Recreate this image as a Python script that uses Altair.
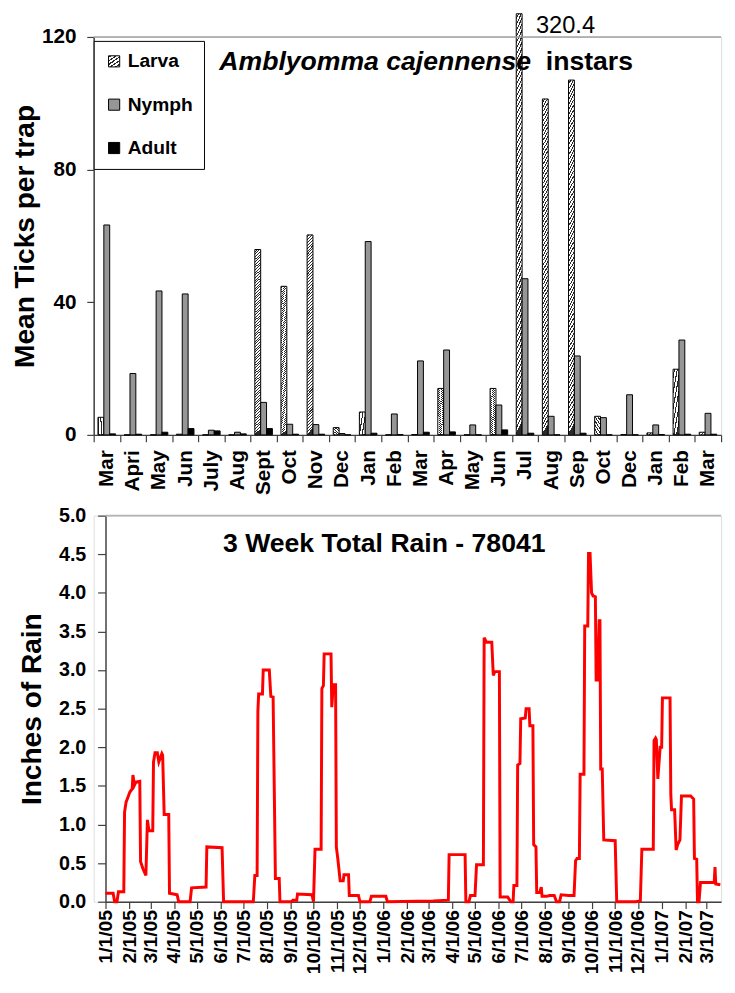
import altair as alt
import pandas as pd

FONT = "Liberation Sans"

# ---------------- top panel data ----------------
months = ["Mar", "Apri", "May", "Jun", "July", "Aug", "Sept", "Oct", "Nov", "Dec", "Jan", "Feb",
          "Mar", "Apr", "May", "Jun", "Jul", "Aug", "Sep", "Oct", "Dec", "Jan", "Feb", "Mar"]
stages = ["Larva", "Nymph", "Adult"]
larva = [5.3, 0, 0, 0.2, 0, 0, 55.9, 44.8, 60.3, 2.2, 6.9, 0, 0.1, 14.0, 0, 14.0,
         320.4, 101.3, 107.0, 5.6, 0.1, 0.6, 19.8, 0.8]
nymph = [63.3, 18.5, 43.4, 42.5, 1.4, 0.8, 9.8, 3.2, 3.1, 0.4, 58.3, 6.3, 22.3, 25.6,
         3.0, 9.0, 47.1, 5.6, 23.8, 5.2, 12.1, 3.0, 28.6, 6.5]
adult = [0.3, 0.2, 0.8, 1.9, 1.2, 0.3, 1.9, 0.2, 0.2, 0.0, 0.5, 0.1, 0.8, 0.9,
         0.0, 1.5, 0.5, 0.0, 0.5, 0.0, 0.0, 0.1, 0.2, 0.2]

# ---------------- bottom panel data ----------------
rain_dates = [
    "2005/01/01", "2005/01/11", "2005/01/13", "2005/01/16", "2005/01/18", "2005/01/25",
    "2005/01/26", "2005/01/28", "2005/02/02", "2005/02/05", "2005/02/06", "2005/02/08",
    "2005/02/10", "2005/02/15", "2005/02/16", "2005/02/19", "2005/02/23", "2005/02/25",
    "2005/02/27", "2005/03/04", "2005/03/05", "2005/03/07", "2005/03/10", "2005/03/12",
    "2005/03/16", "2005/03/17", "2005/03/19", "2005/03/25", "2005/03/26", "2005/04/05",
    "2005/04/07", "2005/04/22", "2005/04/24", "2005/05/13", "2005/05/14", "2005/06/03",
    "2005/06/05", "2005/07/14", "2005/07/16", "2005/07/19", "2005/07/20", "2005/07/21",
    "2005/07/26", "2005/07/27", "2005/08/04", "2005/08/06", "2005/08/09", "2005/08/12",
    "2005/08/17", "2005/08/18", "2005/09/02", "2005/09/04", "2005/09/09", "2005/09/10",
    "2005/09/29", "2005/10/01", "2005/10/03", "2005/10/11", "2005/10/12", "2005/10/14",
    "2005/10/15", "2005/10/24", "2005/10/25", "2005/10/27", "2005/10/30", "2005/10/31",
    "2005/11/02", "2005/11/05", "2005/11/09", "2005/11/10", "2005/11/16", "2005/11/17",
    "2005/11/29", "2005/12/01", "2005/12/14", "2005/12/16", "2006/01/04", "2006/01/06",
    "2006/03/07", "2006/03/27", "2006/03/28", "2006/04/18", "2006/04/19", "2006/04/23",
    "2006/04/25", "2006/05/01", "2006/05/03", "2006/05/12", "2006/05/13", "2006/05/16",
    "2006/05/23", "2006/05/25", "2006/05/27", "2006/06/02", "2006/06/03", "2006/06/13",
    "2006/06/17", "2006/06/20", "2006/06/21", "2006/06/25", "2006/06/26", "2006/06/29",
    "2006/06/30", "2006/07/06", "2006/07/07", "2006/07/11", "2006/07/12", "2006/07/16",
    "2006/07/17", "2006/07/20", "2006/07/21", "2006/07/25", "2006/07/27", "2006/07/28",
    "2006/08/03", "2006/08/07", "2006/08/13", "2006/08/16", "2006/08/20", "2006/08/22",
    "2006/09/01", "2006/09/08", "2006/09/10", "2006/09/12", "2006/09/15", "2006/09/16",
    "2006/09/21", "2006/09/22", "2006/09/26", "2006/09/27", "2006/09/29", "2006/10/01",
    "2006/10/03", "2006/10/06", "2006/10/07", "2006/10/09", "2006/10/11", "2006/10/12",
    "2006/10/13", "2006/10/15", "2006/10/17", "2006/11/01", "2006/11/03", "2006/11/28",
    "2006/12/04", "2006/12/06", "2006/12/21", "2006/12/22", "2006/12/24", "2006/12/25",
    "2006/12/27", "2006/12/30", "2007/01/01", "2007/01/02", "2007/01/12", "2007/01/13",
    "2007/01/14", "2007/01/18", "2007/01/20", "2007/01/22", "2007/01/25", "2007/01/27",
    "2007/02/08", "2007/02/12", "2007/02/13", "2007/02/16", "2007/02/17", "2007/02/19",
    "2007/02/21", "2007/03/11", "2007/03/12", "2007/03/13", "2007/03/19",
]
rain_vals = [
    0.11, 0.11, 0.0, 0.0, 0.13, 0.13,
    1.16, 1.29, 1.42, 1.46, 1.64, 1.51,
    1.55, 1.56, 0.52, 0.43, 0.34, 1.06,
    0.92, 0.92, 1.81, 1.93, 1.93, 1.81,
    1.92, 1.90, 1.13, 1.13, 0.11, 0.09,
    0.0, 0.0, 0.18, 0.19, 0.71, 0.70,
    0.0, 0.0, 0.34, 0.34, 2.46, 2.69,
    2.69, 3.0, 3.0, 2.66, 2.65, 0.30,
    0.30, 0.0, 0.0, 0.02, 0.02, 0.10,
    0.09, 0.0, 0.68, 0.68, 2.76, 2.80,
    3.21, 3.21, 2.52, 2.81, 2.81, 0.71,
    0.55, 0.27, 0.27, 0.35, 0.35, 0.08,
    0.08, 0.0, 0.0, 0.07, 0.07, 0.0,
    0.01, 0.02, 0.61, 0.61, 0.0, 0.0,
    0.08, 0.08, 0.48, 0.48, 3.42, 3.36,
    3.36, 2.93, 2.98, 2.98, 0.06, 0.06,
    0.0, 0.0, 0.21, 0.21, 1.77, 1.79,
    2.37, 2.38, 2.50, 2.50, 2.28, 2.28,
    0.74, 0.71, 0.12, 0.12, 0.19, 0.07,
    0.07, 0.08, 0.08, 0.0, 0.0, 0.09,
    0.08, 0.08, 0.53, 0.56, 0.56, 1.65,
    1.65, 3.57, 3.57, 4.51, 4.51, 4.00,
    3.96, 3.95, 2.87, 2.87, 3.64, 3.64,
    1.72, 1.72, 0.80, 0.79, 0.0, 0.0,
    0.01, 0.68, 0.68, 2.09, 2.12, 2.10,
    1.59, 2.00, 2.00, 2.64, 2.64, 1.39,
    1.19, 1.19, 0.67, 0.74, 0.80, 1.37,
    1.37, 1.33, 0.56, 0.55, 0.0, 0.0,
    0.25, 0.25, 0.45, 0.23, 0.22,
]
rain_tick_dates = [(y, m) for y in (2005, 2006) for m in range(1, 13)] + [(2007, 1), (2007, 2), (2007, 3)]
rain_axis_values = [0, 0.5, 1, 1.5, 2, 2.5, 3, 3.5, 4, 4.5, 5]
tick_axis_values = [0, 40, 80, 120]

top_title_italic = "Amblyomma cajennense"
top_title_plain = "instars"
bottom_title = "3 Week Total Rain - 78041"

# ---------------- build tables ----------------
keys = [f"{i:02d}|{m}" for i, m in enumerate(months)]
rows = []
for i, k in enumerate(keys):
    for s, arr in zip(stages, (larva, nymph, adult)):
        rows.append({"key": k, "stage": s, "value": arr[i]})
df_top = pd.DataFrame(rows)
df_rain = pd.DataFrame({"date": rain_dates, "rain": rain_vals})


def hatch_expr(n=70, duty=0.38, ink="#2a2a2a", paper="#ffffff"):
    stops = []
    for k in range(n):
        a = k / n
        b = (k + 1 - duty) / n
        c = (k + 1) / n
        stops += [(a, paper), (b, paper), (b, ink), (c, ink)]
    s = ",".join("{offset:%.5f,color:'%s'}" % (o, c) for o, c in stops)
    return "{gradient:'linear',x1:0,y1:0,x2:0.03,y2:1,stops:[%s]}" % s


W = 637
AX = "#404040"

# shared axis / scale definitions (identical in every layer so they merge cleanly)
top_x_axis = alt.Axis(title=None, labelExpr="split(datum.value, '|')[1]",
                      labelAngle=-90, labelFont=FONT, labelFontSize=21,
                      labelFontWeight="bold", labelColor="black", labelPadding=8,
                      tickBand="extent", tickSize=7, tickColor=AX, tickWidth=1.2,
                      domainColor=AX, domainWidth=1.5)
top_x_scale = alt.Scale(paddingInner=0, paddingOuter=0)
top_y_axis = alt.Axis(values=tick_axis_values, title="Mean Ticks per trap",
                      titleFont=FONT, titleFontSize=28.5, titleFontWeight="bold",
                      titleColor="black", titlePadding=2,
                      labelFont=FONT, labelFontSize=21, labelFontWeight="bold",
                      labelColor="black", labelPadding=11, tickSize=7,
                      tickColor=AX, tickWidth=1.2, domainColor=AX, domainWidth=1.5,
                      grid=False)
top_y_scale = alt.Scale(domain=[0, 120], nice=False, clamp=False)

x_top = alt.X("key:N", sort=keys, scale=top_x_scale, axis=top_x_axis)
xoff = alt.XOffset("stage:N", sort=stages,
                   scale=alt.Scale(domain=stages, paddingInner=0, paddingOuter=0.73))
y_top = alt.Y("shown:Q", scale=top_y_scale, axis=top_y_axis)

base_top = alt.Chart(df_top).transform_calculate(shown="min(datum.value, 127)")

bars = base_top.mark_bar(stroke="black", strokeWidth=1).encode(
    x=x_top, xOffset=xoff, y=y_top,
    color=alt.Color("stage:N", sort=stages,
                    scale=alt.Scale(domain=stages,
                                    range=[{"expr": hatch_expr()}, "#969696", "#000000"]),
                    legend=alt.Legend(title=None, orient="none", legendX=0, legendY=4,
                                      direction="vertical", fillColor="white",
                                      strokeColor="black", padding=11, rowPadding=23,
                                      symbolType="square", symbolSize=128,
                                      symbolStrokeColor="black", symbolStrokeWidth=1,
                                      labelFont=FONT, labelFontSize=19.5,
                                      labelFontWeight="bold", labelColor="black",
                                      labelOffset=4)),
)

label_big = base_top.transform_filter("datum.value > 120").mark_text(
    align="left", baseline="top", dx=17, dy=1, font=FONT, fontSize=24, color="black"
).encode(x=x_top, xOffset=xoff, y=y_top, text=alt.Text("value:Q", format=".1f"))

rule120 = alt.Chart(pd.DataFrame({"v": [120]})).mark_rule(
    color="#a0a0a0", strokeWidth=1.5).encode(y=alt.Y("v:Q", scale=top_y_scale, axis=top_y_axis))

t_it = alt.Chart(pd.DataFrame({"t": [top_title_italic]})).mark_text(
    align="right", baseline="middle", font=FONT, fontSize=27, fontWeight="bold",
    fontStyle="italic", color="black").encode(text="t:N", x=alt.value(444), y=alt.value(26))
t_pl = alt.Chart(pd.DataFrame({"t": [top_title_plain]})).mark_text(
    align="left", baseline="middle", font=FONT, fontSize=27, fontWeight="bold",
    color="black").encode(text="t:N", x=alt.value(459), y=alt.value(26))

top = alt.layer(bars, rule120, label_big, t_it, t_pl).properties(width=W, height=404)

# ---------------- bottom ----------------
d0 = alt.DateTime(year=2005, month=1, date=1)
d1 = alt.DateTime(year=2007, month=3, date=20)
tick_vals = [alt.DateTime(year=y, month=m, date=1) for y, m in rain_tick_dates]

bot_x_scale = alt.Scale(domain=[d0, d1], range=[12, W])
bot_x_axis = alt.Axis(title=None, values=tick_vals, format="%-m/%-d/%y",
                      labelAngle=-90, labelOverlap=False, labelFont=FONT,
                      labelFontSize=19.5, labelFontWeight="bold", labelColor="black",
                      labelPadding=1, tickSize=7, tickColor=AX, tickWidth=1.2,
                      domainColor=AX, domainWidth=1.5, grid=False)
bot_y_scale = alt.Scale(domain=[0, 5], nice=False)
bot_y_axis = alt.Axis(values=rain_axis_values, format=".1f", labelOverlap=False,
                      title="Inches of Rain", titleFont=FONT, titleFontSize=28.5,
                      titleFontWeight="bold", titleColor="black", titlePadding=12,
                      labelFont=FONT, labelFontSize=20, labelFontWeight="bold",
                      labelColor="black", labelPadding=12, tickSize=8, tickColor=AX,
                      tickWidth=1.2, domainColor=AX, domainWidth=1.5, grid=False,
                      offset=-12)

line = alt.Chart(df_rain).mark_line(color="#ff0000", strokeWidth=3).encode(
    x=alt.X("date:T", scale=bot_x_scale, axis=bot_x_axis),
    y=alt.Y("rain:Q", scale=bot_y_scale, axis=bot_y_axis))

rule5 = alt.Chart(pd.DataFrame({"date": ["2005/01/01"], "end": ["2007/03/20"], "rain": [5]})).mark_rule(
    color="#b4b4b4", strokeWidth=2).encode(
    x=alt.X("date:T", scale=bot_x_scale, axis=bot_x_axis), x2="end:T",
    y=alt.Y("rain:Q", scale=bot_y_scale, axis=bot_y_axis))

t_b = alt.Chart(pd.DataFrame({"t": [bottom_title]})).mark_text(
    align="center", baseline="middle", font=FONT, fontSize=27, fontWeight="bold",
    color="black").encode(text="t:N", x=alt.value(295), y=alt.value(29))

bottom = alt.layer(line, rule5, t_b).properties(width=W, height=392)

chart = alt.vconcat(top, bottom, spacing=9).properties(
    padding={"left": 2, "top": -3, "right": 0, "bottom": -6}
).configure_view(stroke=None).configure(font=FONT)

chart.save("out.html", embed_options={"renderer": "svg", "actions": False})
